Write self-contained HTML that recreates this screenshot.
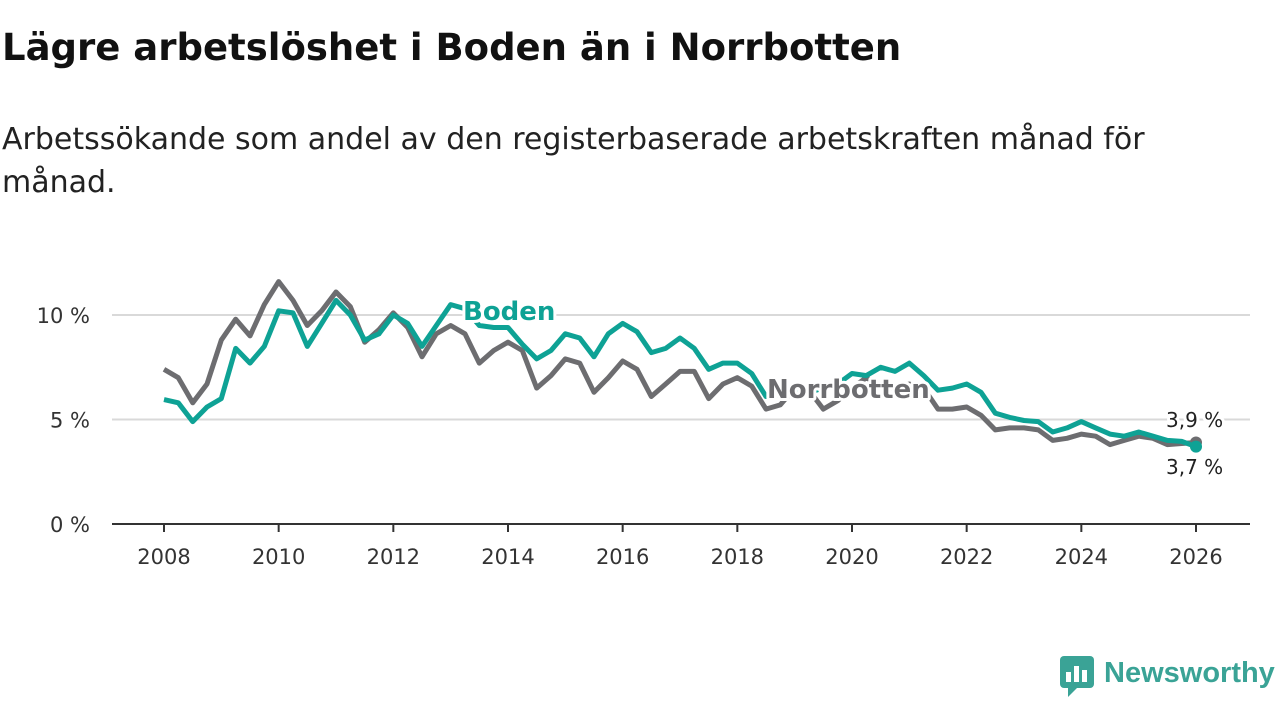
<!DOCTYPE html>
<html><head><meta charset="utf-8"><style>
body{margin:0;background:#fff;width:1280px;height:720px;overflow:hidden;font-family:"DejaVu Sans","Liberation Sans",sans-serif;color:#111}
h1{position:absolute;left:2px;top:26px;margin:0;font-size:37px;font-weight:bold;letter-spacing:0}
p.sub{position:absolute;left:2px;top:118px;margin:0;font-size:30px;line-height:43px;width:1175px;color:#222}
svg{position:absolute;left:0;top:0}
</style></head><body>
<h1>Lägre arbetslöshet i Boden än i Norrbotten</h1>
<p class="sub">Arbetssökande som andel av den registerbaserade arbetskraften månad för månad.</p>
<svg id="chart" width="1280" height="720"></svg>
<script>
const startYear = 2008;
const step = 0.25;
const norrbotten = [7.4,7.0,5.8,6.7,8.8,9.8,9.0,10.5,11.6,10.7,9.5,10.2,11.1,10.4,8.7,9.3,10.1,9.4,8.0,9.1,9.5,9.1,7.7,8.3,8.7,8.3,6.5,7.1,7.9,7.7,6.3,7.0,7.8,7.4,6.1,6.7,7.3,7.3,6.0,6.7,7.0,6.6,5.5,5.7,6.5,6.4,5.5,5.9,6.5,7.0,6.6,6.5,6.7,6.5,5.5,5.5,5.6,5.2,4.5,4.6,4.6,4.5,4.0,4.1,4.3,4.2,3.8,4.0,4.2,4.1,3.8,3.85,3.9];
const boden = [5.95,5.8,4.9,5.6,6.0,8.4,7.7,8.5,10.2,10.1,8.5,9.6,10.7,10.0,8.8,9.1,10.0,9.6,8.5,9.5,10.5,10.3,9.5,9.4,9.4,8.6,7.9,8.3,9.1,8.9,8.0,9.1,9.6,9.2,8.2,8.4,8.9,8.4,7.4,7.7,7.7,7.2,6.1,6.2,6.3,6.3,6.5,6.7,7.2,7.1,7.5,7.3,7.7,7.1,6.4,6.5,6.7,6.3,5.3,5.1,4.95,4.9,4.4,4.6,4.9,4.6,4.3,4.2,4.4,4.2,4.0,3.95,3.7];
const yTicks = [0,5,10];
const xTicks = [2008,2010,2012,2014,2016,2018,2020,2022,2024,2026];
const endLabels = ["3,9 %","3,7 %"];

const NS="http://www.w3.org/2000/svg";
const svg=document.getElementById('chart');
const X=v=>164+(v-2008)*(1196-164)/18;
const Y=v=>524-v*20.9;
function mk(t,a,p){const e=document.createElementNS(NS,t);for(const k in a)e.setAttribute(k,a[k]);(p||svg).appendChild(e);return e;}
yTicks.forEach(t=>{
  if(t>0){const g=mk('line',{x1:112,x2:1250,y1:Y(t),y2:Y(t),stroke:'#d9d9d9','stroke-width':2});
  
  }
  const l=mk('text',{x:90,y:Y(t)+8,'text-anchor':'end','font-size':21,fill:'#333'});
  l.textContent=t+' %';
  
  
});
const ax=mk('line',{x1:112,x2:1250,y1:524,y2:524,stroke:'#333','stroke-width':2});


xTicks.forEach(t=>{
  const tk=mk('line',{x1:X(t),x2:X(t),y1:524,y2:532,stroke:'#333','stroke-width':2});
  
  
  const l=mk('text',{x:X(t),y:564,'text-anchor':'middle','font-size':21,fill:'#333'});
  l.textContent=t;
  
  
});
function series(arr,color,name){
  const d=arr.map((v,i)=>(i?'L':'M')+X(startYear+i*step).toFixed(1)+','+Y(v).toFixed(1)).join(' ');
  const p=mk('path',{d:d,fill:'none',stroke:color,'stroke-width':5,'stroke-linejoin':'round'});
  
  
  const n=arr.length-1;
  const c=mk('circle',{cx:X(startYear+n*step),cy:Y(arr[n]),r:6,fill:color});
  
  
}
series(norrbotten,'#6d6d70','norrbotten');
series(boden,'#0ea295','boden');
function lbl(txt,x,y,color,name,size,bold){
  const t=mk('text',{x:x,y:y,'font-size':size,'font-weight':bold?'bold':'normal',fill:color,stroke:'#fff','stroke-width':6,'paint-order':'stroke','stroke-linejoin':'round'});
  t.textContent=txt;
  
  
}
lbl('Boden',463,320,'#0ea295','boden-label',26,true);
lbl('Norrbotten',767,398,'#6d6d70','norrbotten-label',26,true);
lbl(endLabels[0],1166,427,'#222','norrbotten-end-value',20,false);
lbl(endLabels[1],1166,474,'#222','boden-end-value',20,false);
</script>
<svg width="1280" height="720" style="position:absolute;left:0;top:0;pointer-events:none">
  <rect x="1060" y="656" width="34" height="32" rx="4" fill="#3aa396"/>
  <path d="M1068 688 L1068 697 L1077 688 Z" fill="#3aa396"/>
  <rect x="1066" y="672" width="5" height="10" fill="#fff"/><rect x="1074" y="666" width="5" height="16" fill="#fff"/><rect x="1082" y="670" width="5" height="12" fill="#fff"/>
  <text x="1104" y="682" font-size="29" font-weight="bold" fill="#3aa396" font-family="Liberation Sans, sans-serif">Newsworthy</text>
</svg>
</body></html>
